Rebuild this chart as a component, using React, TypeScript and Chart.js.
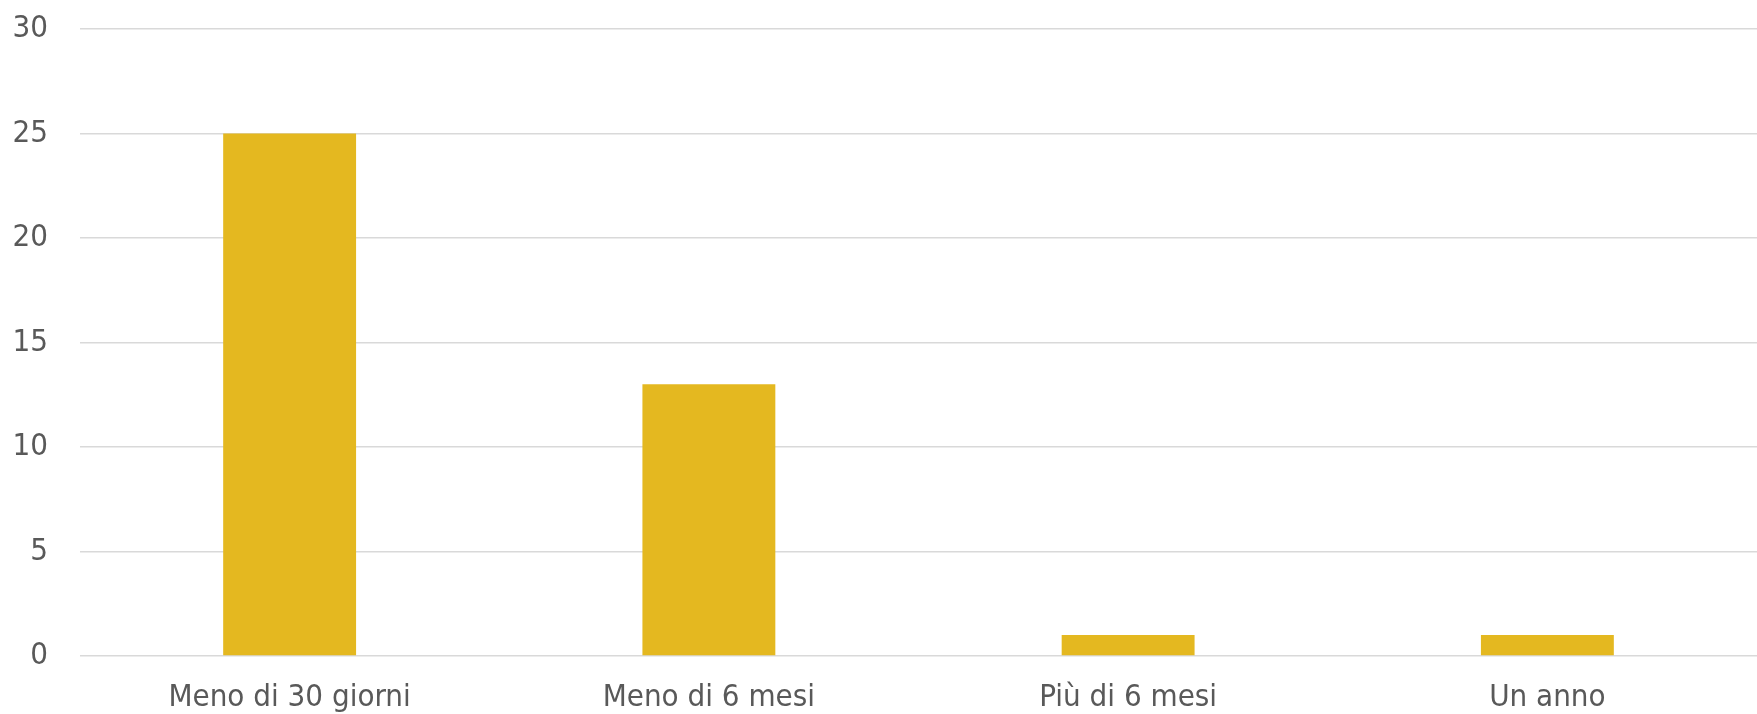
import React, { useEffect, useRef } from 'react';
import { Chart, registerables } from 'chart.js';

Chart.register(...registerables);

const categories = ['Meno di 30 giorni', 'Meno di 6 mesi', 'Più di 6 mesi', 'Un anno'];
const values = [25, 13, 1, 1];
const yTicks = [0, 5, 10, 15, 20, 25, 30];

const FONT_FAMILY = '"DejaVu Sans Condensed", "DejaVu Sans", sans-serif';
const TEXT_COLOR = '#595959';

export default function App() {
  const ref = useRef<HTMLCanvasElement>(null);

  useEffect(() => {
    document.body.style.margin = '0';
    const chart = new Chart(ref.current as HTMLCanvasElement, {
      type: 'bar',
      data: {
        labels: categories,
        datasets: [
          {
            data: values,
            backgroundColor: '#E4B820',
            barPercentage: 0.317,
            categoryPercentage: 1,
          },
        ],
      },
      options: {
        animation: false,
        responsive: false,
        maintainAspectRatio: false,
        layout: { padding: { top: 29, right: 0, bottom: 0, left: 0 } },
        plugins: { legend: { display: false }, tooltip: { enabled: false } },
        scales: {
          x: {
            grid: { display: false, drawTicks: false },
            border: { display: false },
            ticks: {
              padding: 23,
              color: TEXT_COLOR,
              font: { family: FONT_FAMILY, size: 31 },
              maxRotation: 0,
            },
            afterFit: (s: any) => {
              s.height = 58;
            },
          },
          y: {
            min: 0,
            max: 30,
            grid: { color: '#D9D9D9', lineWidth: 1.5, drawTicks: false },
            border: { display: false },
            ticks: {
              padding: 32,
              color: TEXT_COLOR,
              font: { family: FONT_FAMILY, size: 31 },
            },
            afterBuildTicks: (s: any) => {
              s.ticks = yTicks.map((v) => ({ value: v }));
            },
            afterFit: (s: any) => {
              s.width = 80;
              s.paddingTop = 0;
              s.paddingBottom = 0;
            },
          },
        },
      },
    });
    return () => chart.destroy();
  }, []);

  return (
    <div style={{ width: 1757, height: 714 }}>
      <canvas ref={ref} width={1757} height={714} style={{ display: 'block' }} />
    </div>
  );
}
